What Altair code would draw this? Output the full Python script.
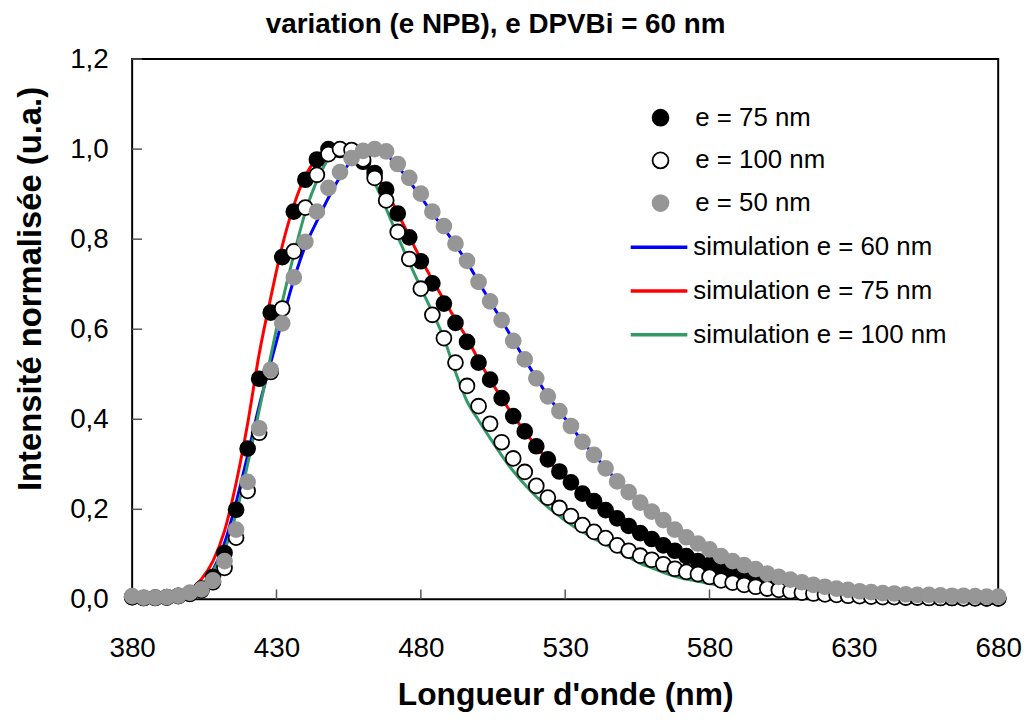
import altair as alt
import pandas as pd

# ---------------- data ----------------
wavelength = [380, 384, 388, 392, 396, 400, 404, 408, 412, 416, 420, 424, 428, 432, 436, 440,
              444, 448, 452, 456, 460, 464, 468, 472, 476, 480, 484, 488, 492, 496, 500, 504,
              508, 512, 516, 520, 524, 528, 532, 536, 540, 544, 548, 552, 556, 560, 564, 568,
              572, 576, 580, 584, 588, 592, 596, 600, 604, 608, 612, 616, 620, 624, 628, 632,
              636, 640, 644, 648, 652, 656, 660, 664, 668, 672, 676, 680]

e75 = [0.005, 0.003, 0.004, 0.005, 0.008, 0.013, 0.024, 0.05, 0.103, 0.199, 0.335, 0.49, 0.637, 0.76, 0.861, 0.932,
       0.977, 1.0, 0.998, 0.99, 0.972, 0.947, 0.91, 0.857, 0.804, 0.751, 0.702, 0.657, 0.614, 0.572, 0.526, 0.488,
       0.447, 0.407, 0.373, 0.34, 0.311, 0.284, 0.26, 0.235, 0.218, 0.198, 0.18, 0.163, 0.147, 0.134, 0.12, 0.108,
       0.096, 0.085, 0.076, 0.068, 0.06, 0.053, 0.046, 0.04, 0.035, 0.03, 0.026, 0.022, 0.019, 0.016, 0.013, 0.011,
       0.009, 0.008, 0.006, 0.005, 0.005, 0.004, 0.004, 0.003, 0.003, 0.003, 0.002, 0.002]

e100 = [0.005, 0.003, 0.003, 0.004, 0.007, 0.012, 0.02, 0.038, 0.07, 0.137, 0.241, 0.37, 0.505, 0.646, 0.773, 0.87,
        0.943, 0.989, 1.0, 0.998, 0.977, 0.936, 0.886, 0.816, 0.756, 0.69, 0.632, 0.58, 0.526, 0.474, 0.429, 0.39,
        0.349, 0.313, 0.283, 0.252, 0.226, 0.203, 0.185, 0.165, 0.15, 0.136, 0.12, 0.108, 0.097, 0.088, 0.078, 0.068,
        0.061, 0.056, 0.05, 0.042, 0.037, 0.032, 0.028, 0.024, 0.021, 0.018, 0.015, 0.013, 0.011, 0.01, 0.008, 0.007,
        0.006, 0.005, 0.005, 0.004, 0.004, 0.003, 0.003, 0.003, 0.002, 0.002, 0.002, 0.002]

e50 = [0.007, 0.004, 0.004, 0.005, 0.008, 0.015, 0.022, 0.042, 0.085, 0.155, 0.261, 0.38, 0.51, 0.613, 0.715, 0.794,
       0.861, 0.914, 0.949, 0.98, 0.996, 1.0, 0.995, 0.967, 0.936, 0.901, 0.861, 0.829, 0.79, 0.752, 0.705, 0.662,
       0.62, 0.574, 0.533, 0.491, 0.451, 0.418, 0.385, 0.35, 0.321, 0.291, 0.262, 0.238, 0.215, 0.195, 0.176, 0.155,
       0.138, 0.124, 0.111, 0.096, 0.085, 0.076, 0.067, 0.057, 0.05, 0.044, 0.038, 0.032, 0.028, 0.024, 0.021, 0.018,
       0.016, 0.014, 0.013, 0.011, 0.01, 0.01, 0.009, 0.008, 0.008, 0.007, 0.006, 0.006]

sim60 = [0.002, 0.002, 0.003, 0.004, 0.007, 0.013, 0.03, 0.065, 0.125, 0.215, 0.32, 0.43, 0.525, 0.62, 0.71, 0.785,
         0.84, 0.892, 0.938, 0.975, 0.996, 1.0, 0.988, 0.962, 0.929, 0.894, 0.857, 0.824, 0.787, 0.749, 0.705, 0.662,
         0.62, 0.576, 0.533, 0.492, 0.452, 0.418, 0.385, 0.35, 0.321, 0.292, 0.263, 0.238, 0.214, 0.193, 0.172, 0.152,
         0.135, 0.12, 0.105, 0.092, 0.08, 0.069, 0.06, 0.052, 0.045, 0.038, 0.033, 0.028, 0.024, 0.02, 0.017, 0.015,
         0.013, 0.011, 0.01, 0.009, 0.008, 0.007, 0.007, 0.006, 0.006, 0.005, 0.005, 0.005]

sim75 = [0.002, 0.002, 0.003, 0.005, 0.009, 0.02, 0.045, 0.085, 0.152, 0.258, 0.39, 0.545, 0.67, 0.785, 0.875, 0.94,
         0.979, 0.997, 0.999, 0.988, 0.97, 0.945, 0.907, 0.858, 0.806, 0.756, 0.71, 0.665, 0.622, 0.58, 0.532, 0.488,
         0.447, 0.408, 0.373, 0.34, 0.31, 0.283, 0.258, 0.235, 0.215, 0.196, 0.178, 0.161, 0.146, 0.131, 0.117, 0.104,
         0.092, 0.081, 0.071, 0.062, 0.054, 0.047, 0.041, 0.035, 0.03, 0.026, 0.022, 0.019, 0.016, 0.013, 0.011, 0.009,
         0.008, 0.007, 0.006, 0.005, 0.005, 0.004, 0.004, 0.004, 0.003, 0.003, 0.003, 0.003]

sim100 = [0.002, 0.002, 0.003, 0.004, 0.007, 0.014, 0.03, 0.063, 0.11, 0.19, 0.3, 0.42, 0.54, 0.66, 0.765, 0.86,
          0.93, 0.978, 0.997, 0.995, 0.972, 0.925, 0.868, 0.806, 0.748, 0.692, 0.638, 0.58, 0.505, 0.44, 0.398, 0.358,
          0.32, 0.285, 0.255, 0.228, 0.205, 0.185, 0.166, 0.15, 0.135, 0.122, 0.108, 0.094, 0.08, 0.07, 0.06, 0.051,
          0.045, 0.04, 0.035, 0.031, 0.028, 0.024, 0.021, 0.018, 0.016, 0.014, 0.012, 0.01, 0.009, 0.008, 0.007, 0.006,
          0.006, 0.005, 0.005, 0.005, 0.004, 0.004, 0.004, 0.004, 0.004, 0.004, 0.004, 0.004]

point_series = ["e = 75 nm", "e = 100 nm", "e = 50 nm"]
point_fill = ["#000000", "#FFFFFF", "#969696"]
point_stroke = ["#000000", "#000000", "#969696"]
line_series = ["simulation e = 60 nm", "simulation e = 75 nm", "simulation e = 100 nm"]
line_colors = ["#0000FF", "#FF0000", "#339966"]

x_ticks = [380, 430, 480, 530, 580, 630, 680]
y_ticks = [0.0, 0.2, 0.4, 0.6, 0.8, 1.0, 1.2]

chart_title = ["variation (e NPB), e DPVBi = 60 nm"]

# ---------------- tables ----------------
pts = pd.concat([
    pd.DataFrame({"nm": wavelength, "val": vals, "serie": name})
    for name, vals in zip(point_series, [e75, e100, e50])
], ignore_index=True)
lns = pd.concat([
    pd.DataFrame({"nm": wavelength, "val": vals, "sim": name})
    for name, vals in zip(line_series, [sim60, sim75, sim100])
], ignore_index=True)
xt = pd.DataFrame({"nm": x_ticks})
yt = pd.DataFrame({"val": y_ticks})
tt = pd.DataFrame({"t": chart_title})

FONT = "Liberation Sans"
W, H = 872, 544

xscale = alt.Scale(domain=[380, 680], nice=False, zero=False)
yscale = alt.Scale(domain=[0, 1.2], nice=False, zero=False)

x_axis = alt.Axis(values=x_ticks, format="d", labelFontSize=28, labelFont=FONT, labelColor="black",
                  labelPadding=58, labelBaseline="alphabetic", ticks=False, tickSize=0, domain=False,
                  grid=False, labelFlush=False, labelOverlap=False,
                  title="Longueur d'onde (nm)", titleFontSize=32, titleFont=FONT, titleFontWeight="bold",
                  titleColor="black", titleX=436, titleY=106, titleAlign="center", titleBaseline="alphabetic")
y_axis = alt.Axis(values=y_ticks, labelExpr="replace(format(datum.value, '.1f'), '.', ',')",
                  labelFontSize=28, labelFont=FONT, labelColor="black", labelPadding=24,
                  labelBaseline="middle", ticks=False, tickSize=0, domain=False, grid=False,
                  labelFlush=False, labelOverlap=False,
                  title="Intensité normalisée (u.a.)", titleFontSize=33, titleFont=FONT,
                  titleFontWeight="bold", titleColor="black", titleAngle=270, titleX=-92, titleY=231,
                  titleAlign="center", titleBaseline="alphabetic")

xtick_rules = alt.Chart(xt).mark_rule(color="#555555", strokeWidth=1.5).encode(
    x=alt.X("nm:Q", scale=xscale, axis=x_axis),
    y=alt.value(H), y2=alt.value(H - 10))

ytick_rules = alt.Chart(yt).mark_rule(color="#555555", strokeWidth=1.5).encode(
    y=alt.Y("val:Q", scale=yscale, axis=y_axis),
    x=alt.value(0), x2=alt.value(10))

title_text = alt.Chart(tt).mark_text(font=FONT, fontSize=28, fontWeight="bold", color="black",
                                     align="center", baseline="alphabetic").encode(
    text="t:N", x=alt.value(366), y=alt.value(-26))

lines = alt.Chart(lns).mark_line(strokeWidth=3, interpolate="monotone").encode(
    x=alt.X("nm:Q", scale=xscale, axis=x_axis),
    y=alt.Y("val:Q", scale=yscale, axis=y_axis),
    color=alt.Color("sim:N", scale=alt.Scale(domain=line_series, range=line_colors),
                    legend=alt.Legend(orient="none", legendX=500, legendY=159, title=None,
                                      symbolType="stroke", symbolSize=3249, symbolStrokeWidth=3.5,
                                      labelFontSize=26, labelFont=FONT, labelColor="black",
                                      labelOffset=4, rowPadding=0, padding=0, labelLimit=400)),
)

pt_legend = alt.Legend(orient="none", legendX=519, legendY=46, title=None,
                       symbolType="circle", symbolSize=256, symbolStrokeWidth=1.8,
                       labelFontSize=26, labelFont=FONT, labelColor="black",
                       labelOffset=22, rowPadding=17, padding=0, labelLimit=400)

points = alt.Chart(pts).mark_point(filled=False, size=225, strokeWidth=1.8, opacity=1, shape="circle").encode(
    x=alt.X("nm:Q", scale=xscale, axis=x_axis),
    y=alt.Y("val:Q", scale=yscale, axis=y_axis),
    fill=alt.Fill("serie:N", scale=alt.Scale(domain=point_series, range=point_fill), legend=pt_legend),
    stroke=alt.Stroke("serie:N", scale=alt.Scale(domain=point_series, range=point_stroke), legend=pt_legend),
)

chart = alt.layer(xtick_rules, ytick_rules, lines, points, title_text).resolve_scale(
    color="independent", fill="independent", stroke="independent"
).properties(
    width=W, height=H,
    autosize=alt.AutoSizeParams(type="none"),
    padding={"left": 125, "top": 49, "right": 28, "bottom": 113},
    background="white",
).configure_view(stroke="black", strokeWidth=2)

chart.save("out.html", embed_options={"renderer": "svg", "actions": False})
